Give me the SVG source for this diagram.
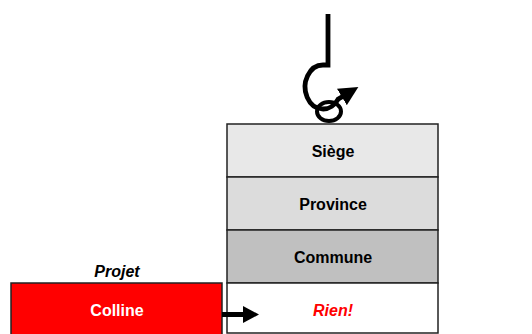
<svg xmlns="http://www.w3.org/2000/svg" width="532" height="334" viewBox="0 0 532 334">
<style>
.lbl{font-family:"Liberation Sans",Arial,sans-serif;font-weight:bold;font-size:16px;text-anchor:middle}
.box{stroke:#222;stroke-width:1.5}
.ln{fill:none;stroke:#000;stroke-width:4.8}
</style>
<defs>
<marker id="ah" markerWidth="4" markerHeight="4" refX="1" refY="2" orient="auto" markerUnits="strokeWidth" viewBox="0 0 4 4">
<path d="M0,0 L4,2 L0,4 Z" fill="#000"/>
</marker>
</defs>
<rect width="532" height="334" fill="#fff"/>
<g id="siege"><rect class="box" x="227" y="124" width="211" height="53" fill="#e8e8e8"/><text class="lbl" x="333" y="157">Siège</text></g>
<g id="province"><rect class="box" x="227" y="177" width="211" height="53" fill="#dcdcdc"/><text class="lbl" x="333" y="210">Province</text></g>
<g id="commune"><rect class="box" x="227" y="230" width="211" height="53" fill="#c0c0c0"/><text class="lbl" x="333" y="263">Commune</text></g>
<g id="rien"><rect class="box" x="227" y="283" width="211" height="50" fill="#fff"/><text class="lbl" x="333" y="316" fill="#ff0000" font-style="italic">Rien!</text></g>
<g id="colline"><rect class="box" x="11" y="283" width="211" height="53" fill="#ff0000"/><text class="lbl" x="117" y="316" fill="#fff">Colline</text></g>
<g id="projet"><text class="lbl" x="117" y="277" font-style="italic">Projet</text></g>
<g id="hook">
<path class="ln" d="M328,14 V65 H323 A18,22 0 1 0 338,99.3 L346,94.5" marker-end="url(#ah)"/>
<ellipse cx="329" cy="111.5" rx="12" ry="9.5" fill="none" stroke="#000" stroke-width="4"/>
</g>
<g id="connectors">
<path d="M222,314.5 H245" stroke="#000" stroke-width="5" fill="none"/>
<path d="M243,306 L259,314.5 L243,323 Z" fill="#000"/>
</g>
</svg>
